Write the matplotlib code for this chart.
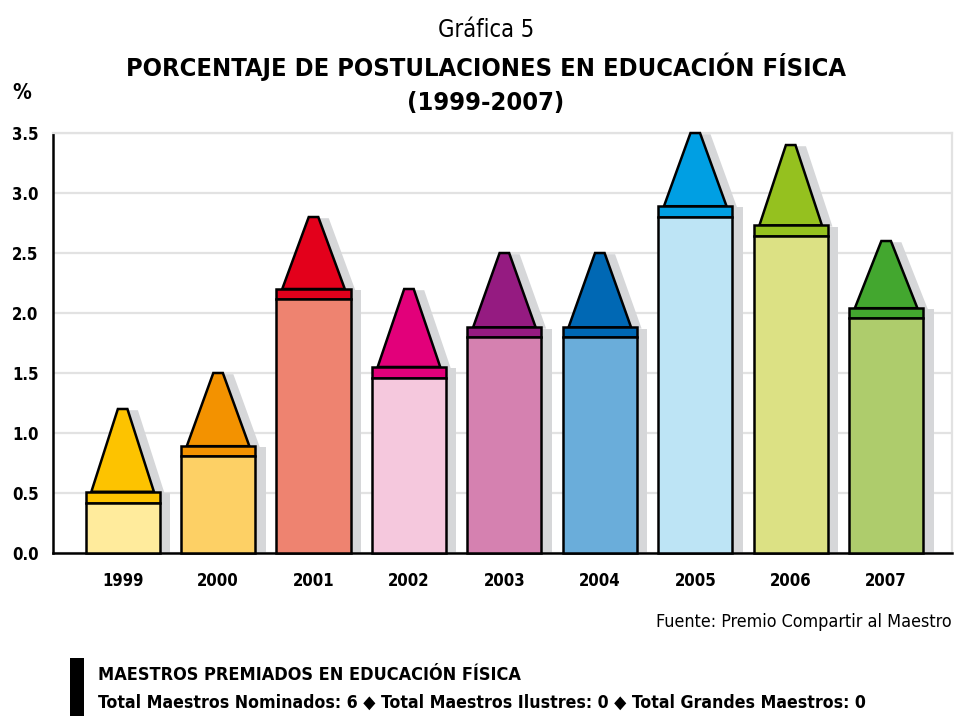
import matplotlib
matplotlib.use("Agg")
from matplotlib import pyplot as plt
from matplotlib import font_manager
from matplotlib.patches import Polygon, Rectangle

# Data
years = ['1999', '2000', '2001', '2002', '2003', '2004', '2005', '2006', '2007']
tip_top = [1.2, 1.5, 2.8, 2.2, 2.5, 2.5, 3.5, 3.4, 2.6]
band_top = [0.51, 0.89, 2.2, 1.55, 1.88, 1.88, 2.89, 2.73, 2.04]
body_top = [0.42, 0.81, 2.12, 1.46, 1.8, 1.8, 2.8, 2.64, 1.96]
body_colors = ['#FFEB9C', '#FDD065', '#EE8370', '#F5C8DD', '#D581B0',
               '#6AADDA', '#BDE4F5', '#DCE184', '#AECC6C']
tip_colors = ['#FDC300', '#F39200', '#E3001B', '#E2007A', '#951B81',
              '#0068B4', '#009FE3', '#95C11F', '#43A72F']
yticks = [0.0, 0.5, 1.0, 1.5, 2.0, 2.5, 3.0, 3.5]

# pick a narrow font if there is one
names = set(f.name for f in font_manager.fontManager.ttflist)
if 'Liberation Sans Narrow' in names:
    FONT = 'Liberation Sans Narrow'
    STRETCH = 'normal'
else:
    FONT = 'DejaVu Sans'
    STRETCH = 'condensed'
plt.rcParams['font.family'] = [FONT, 'DejaVu Sans']
plt.rcParams['font.stretch'] = STRETCH

fig = plt.figure(figsize=(9.72, 7.16), dpi=100)
ax = fig.add_axes([0.0545, 0.2277, 0.9249, 0.5865])

half_w = 0.388
tip_base = 0.328
tip_flat = 0.05
sdx = 0.11
sdy = -0.01
lw = 1.8

for i in range(len(years)):
    c = i
    # shadow
    ax.add_patch(Rectangle((c - half_w + sdx, 0), 2 * half_w, band_top[i] + sdy,
                           facecolor='#D6D7D9', edgecolor='none', zorder=1))
    ax.add_patch(Polygon([(c - tip_base + sdx, band_top[i] + sdy),
                          (c + tip_base + sdx, band_top[i] + sdy),
                          (c + tip_flat + sdx, tip_top[i] + sdy),
                          (c - tip_flat + sdx, tip_top[i] + sdy)],
                         closed=True, facecolor='#D6D7D9', edgecolor='none', zorder=1))
    # tip
    ax.add_patch(Polygon([(c - tip_base, band_top[i]), (c + tip_base, band_top[i]),
                          (c + tip_flat, tip_top[i]), (c - tip_flat, tip_top[i])],
                         closed=True, facecolor=tip_colors[i], edgecolor='black',
                         linewidth=lw, joinstyle='miter', zorder=3, clip_on=False))
    # band
    ax.add_patch(Rectangle((c - half_w, body_top[i]), 2 * half_w, band_top[i] - body_top[i],
                           facecolor=tip_colors[i], edgecolor='black', linewidth=lw,
                           zorder=4, clip_on=False))
    # body
    ax.add_patch(Rectangle((c - half_w, 0), 2 * half_w, body_top[i],
                           facecolor=body_colors[i], edgecolor='black', linewidth=lw,
                           zorder=4, clip_on=False))

ax.set_xlim(-0.73, 8.69)
ax.set_ylim(0, 3.5)
ax.set_yticks(yticks)
ax.set_yticklabels(['%.1f' % v for v in yticks], fontsize=12, fontweight='bold')
ax.set_xticks(range(len(years)))
ax.set_xticklabels(years, fontsize=12, fontweight='bold')
ax.tick_params(axis='x', length=0, pad=14)
for t in ax.get_yticklabels():
    t.set_horizontalalignment('left')
ax.tick_params(axis='y', length=0, pad=29.5)

ax.grid(axis='y', color='#E2E2E2', linewidth=1.6, zorder=0)
ax.set_axisbelow(True)
ax.spines['left'].set_color('black')
ax.spines['left'].set_linewidth(1.8)
ax.spines['bottom'].set_color('black')
ax.spines['bottom'].set_linewidth(1.8)
ax.spines['top'].set_color('#E2E2E2')
ax.spines['top'].set_linewidth(1.6)
ax.spines['right'].set_color('#E2E2E2')
ax.spines['right'].set_linewidth(1.6)

# titles
fig.text(0.5, 1 - 30 / 716, 'Gráfica 5', ha='center', va='center', fontsize=17)
fig.text(0.5, 1 - 67 / 716, 'PORCENTAJE DE POSTULACIONES EN EDUCACIÓN FÍSICA',
         ha='center', va='center', fontsize=18.3, fontweight='bold')
fig.text(0.5, 1 - 103 / 716, '(1999-2007)', ha='center', va='center',
         fontsize=18.3, fontweight='bold')
fig.text(12 / 972, 1 - 93 / 716, '%', ha='left', va='center', fontsize=15, fontweight='bold')

fig.text(952 / 972, 1 - 622 / 716, 'Fuente: Premio Compartir al Maestro',
         ha='right', va='center', fontsize=12.85)

# footer box
fig.add_artist(Rectangle((70 / 972, 0), 14 / 972, 58 / 716, transform=fig.transFigure,
                         facecolor='black', edgecolor='none'))
fig.text(98 / 972, 1 - 675 / 716, 'MAESTROS PREMIADOS EN EDUCACIÓN FÍSICA',
         ha='left', va='center', fontsize=13, fontweight='bold')
fig.text(98 / 972, 1 - 703 / 716,
         'Total Maestros Nominados: 6 ◆ Total Maestros Ilustres: 0 ◆ Total Grandes Maestros: 0',
         ha='left', va='center', fontsize=12.7, fontweight='bold')

fig.savefig('out.png', dpi=100)
